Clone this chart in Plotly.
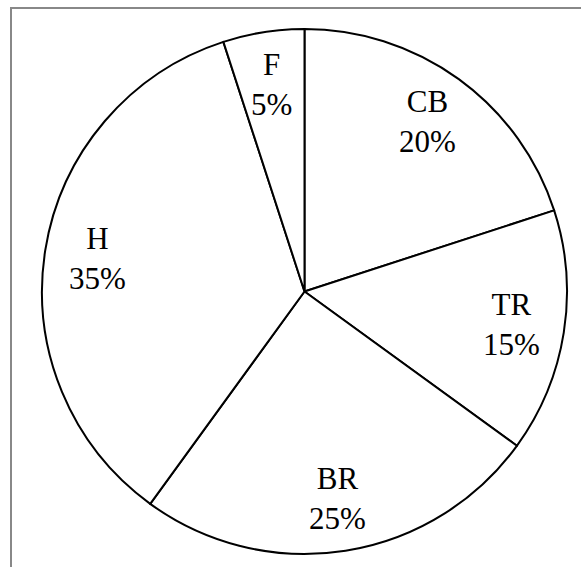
import math
import plotly.graph_objects as go

# Share of each category (percent), clockwise from 12 o'clock
categories = ["CB", "TR", "BR", "H", "F"]
values = [20, 15, 25, 35, 5]

W, H = 581, 567
# Pie placement in pixels
CX, CY, R = 304.5, 291.5, 262.5
LABEL_FRAC = 0.80

fig = go.Figure(
    go.Pie(
        labels=categories,
        values=values,
        sort=False,
        direction="clockwise",
        rotation=0,
        marker=dict(colors=["white"] * len(values), line=dict(color="black", width=2)),
        textinfo="none",
        hoverinfo="label+percent",
        showlegend=False,
        domain=dict(x=[(CX - R) / W, (CX + R) / W], y=[1 - (CY + R) / H, 1 - (CY - R) / H]),
    )
)

# Slice labels placed at the mid-angle of each slice
total = sum(values)
annotations = []
cum = 0.0
for name, v in zip(categories, values):
    mid = (cum + v / 2) / total * 2 * math.pi
    cum += v
    px = CX + LABEL_FRAC * R * math.sin(mid)
    py = CY - LABEL_FRAC * R * math.cos(mid)
    annotations.append(
        dict(
            x=px / W,
            y=1 - py / H,
            xref="paper",
            yref="paper",
            text=f"{name}<br>{round(v / total * 100)}%",
            showarrow=False,
            xanchor="center",
            yanchor="middle",
            font=dict(family="Liberation Serif", size=31, color="black"),
        )
    )

# Chart frame
shapes = [
    dict(
        type="rect",
        xref="paper",
        yref="paper",
        x0=11 / W,
        x1=1.05,
        y0=-0.05,
        y1=1 - 8 / H,
        line=dict(color="#888888", width=2),
        fillcolor="rgba(0,0,0,0)",
    )
]

fig.update_layout(
    width=W,
    height=H,
    autosize=False,
    margin=dict(l=0, r=0, t=0, b=0),
    paper_bgcolor="white",
    plot_bgcolor="white",
    annotations=annotations,
    shapes=shapes,
)

fig.write_html("out.html")
